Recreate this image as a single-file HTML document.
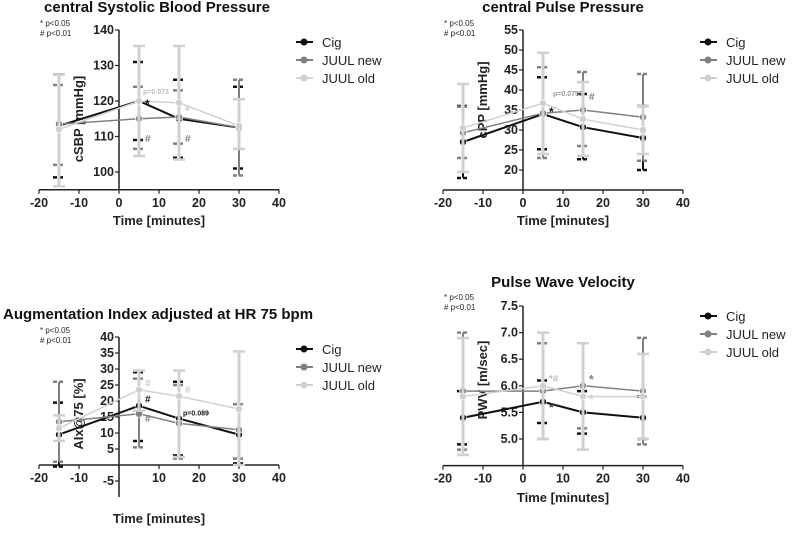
<!DOCTYPE html>
<html><head><meta charset="utf-8"><style>
body{margin:0;background:#fff;width:794px;height:538px;overflow:hidden}
svg{font-family:"Liberation Sans",Arial,sans-serif}
</style></head><body>
<svg id="fig" width="794" height="538"></svg>
<script>
const times=[-15,5,15,30];
const seriesNames=["Cig","JUUL new","JUUL old"];
// cSBP
const sbpMean=[[113,120,115,112.5],[113.5,115,115.5,112.5],[112,120,119.5,113]];
const sbpHi=[[127.5,131,126,124],[124.5,124,123,126],[127.5,135.5,135.5,120.5]];
const sbpLo=[[98.5,109,104,101],[102,106.5,108,99],[96,104.5,103.5,106.5]];
const sbpTicks=[100,110,120,130,140];
// cPP
const ppMean=[[27,34,30.7,28],[29.3,34.2,35,33.2],[30.5,36.7,32.7,30]];
const ppHi=[[36,43.2,39,36],[35.8,45.7,44.5,44],[41.5,49.3,42,36]];
const ppLo=[[18,25.2,22.7,20],[23,23,26,22.3],[19.5,24,23.5,24]];
const ppTicks=[20,25,30,35,40,45,50,55];
// AIx
const aiMean=[[9.5,18.5,14.5,9.5],[13.5,16,13,11],[11.5,23.5,21.5,17.5]];
const aiHi=[[19.5,29,26,19],[26,27,25,19],[15.5,29.5,29.5,35.5]];
const aiLo=[[-0.5,7.5,3,0.5],[1,5.5,2,2],[7.5,17,2.5,0]];
const aiTicks=[-5,5,10,15,20,25,30,35,40];
// PWV
const pwvMean=[[5.4,5.7,5.5,5.4],[5.9,5.9,6.0,5.9],[5.8,6.0,5.8,5.8]];
const pwvHi=[[5.9,6.1,5.9,5.8],[7.0,6.8,6.8,6.9],[6.9,7.0,6.8,6.6]];
const pwvLo=[[4.9,5.3,5.1,5.0],[4.8,5.0,5.2,4.9],[4.7,5.0,4.8,5.0]];
const pwvTicks=[5.0,5.5,6.0,6.5,7.0,7.5];
const xTicks=[-20,-10,0,10,20,30,40];

const colors=["#111","#808080","#d0d0d0"];
const svg=document.getElementById('fig');
const NS="http://www.w3.org/2000/svg";
function mk(tag,attrs,parent,text){const e=document.createElementNS(NS,tag);for(const k in attrs)e.setAttribute(k,attrs[k]);if(text!==undefined)e.textContent=text;(parent||svg).appendChild(e);return e;}

function panel(cfg){
  const g=mk('g',{});
  
  
  const X=v=>cfg.x0+(v+20)*4;
  const Y=v=>cfg.yA+(v-cfg.vA)*(cfg.yB-cfg.yA)/(cfg.vB-cfg.vA);
  const t=mk('text',{x:cfg.titleX,y:cfg.titleY,'font-size':15,'font-weight':'bold','text-anchor':cfg.titleAnchor||'middle',fill:'#111'},g,cfg.title);
  
  const p1=mk('text',{x:cfg.x0+1,y:cfg.pY,'font-size':8,fill:'#222'},g,'* p<0.05');
  
  const p2=mk('text',{x:cfg.x0+1,y:cfg.pY+10,'font-size':8,fill:'#222'},g,'# p<0.01');
  
  const xa=Y(cfg.xAxisV);
  const xl=mk('line',{x1:X(-20),x2:X(40),y1:xa,y2:xa,stroke:'#222','stroke-width':1.5},g);
  
  const yl=mk('line',{x1:X(0),x2:X(0),y1:Y(cfg.yTop),y2:Y(cfg.yBot),stroke:'#222','stroke-width':1.5},g);
  
  xTicks.forEach(v=>{
    mk('line',{x1:X(v),x2:X(v),y1:xa,y2:xa+4,stroke:'#222','stroke-width':1.2},g);
    if(cfg.skipZero && v===0) return;
    const tl=mk('text',{x:X(v),y:xa+17,'font-size':12.5,'font-weight':'bold','text-anchor':'middle',fill:'#222'},g,String(v));
    
  });
  cfg.ticks.forEach(v=>{
    mk('line',{x1:X(0)-4,x2:X(0),y1:Y(v),y2:Y(v),stroke:'#222','stroke-width':1.2},g);
    const tl=mk('text',{x:X(0)-5,y:Y(v)+4,'font-size':12.5,'font-weight':'bold','text-anchor':'end',fill:'#222'},g,cfg.fmt?v.toFixed(1):String(v));
    
  });
  const xt=mk('text',{x:X(10),y:cfg.xLabelY,'font-size':13,'font-weight':'bold','text-anchor':'middle',fill:'#222'},g,'Time [minutes]');
  
  const yy=cfg.yLabelY;
  const yt=mk('text',{x:X(-9),y:yy,'font-size':13,'font-weight':'bold','text-anchor':'middle',fill:'#222',transform:`rotate(-90 ${X(-9)} ${yy})`},g,cfg.yLabel);
  
  const sgs=[0,1,2].map(s=>{
    const sg=mk('g',{},g);
    
    
    return sg;
  });
  // error bars: cig, new, old (old on top)
  [0,1,2].forEach(s=>{
    const c=colors[s];
    times.forEach((tv,i)=>{
      const x=X(tv);
      const bar=mk('line',{x1:x,x2:x,y1:Y(cfg.hi[s][i]),y2:Y(cfg.lo[s][i]),stroke:c,'stroke-width':s==2?3:2},sgs[s]);
      
    });
  });
  [2,1,0].forEach(s=>{
    const c=colors[s];
    times.forEach((tv,i)=>{
      const x=X(tv);
      [cfg.hi[s][i],cfg.lo[s][i]].forEach(v=>{
        mk('line',{x1:x-6,x2:x+6,y1:Y(v),y2:Y(v),stroke:c,'stroke-width':2.5,'stroke-dasharray':s==2?'none':'4,2'},sgs[s]);
      });
    });
  });
  [2,1,0].forEach(s=>{
    const c=colors[s];
    const pts=times.map((tv,i)=>X(tv)+','+Y(cfg.mean[s][i])).join(' ');
    const pl=mk('polyline',{points:pts,fill:'none',stroke:c,'stroke-width':s==0?2:1.5},sgs[s]);
    
    times.forEach((tv,i)=>{
      const m=mk('circle',{cx:X(tv),cy:Y(cfg.mean[s][i]),r:3.5,fill:c,stroke:'#fff','stroke-width':0.6},sgs[s]);
      
    });
  });
  cfg.ann.forEach(a=>{
    const e=mk('text',{x:X(a[0]),y:Y(a[1]),'font-size':a[4]||11,fill:a[3],'font-weight':'bold'},g,a[2]);
    
  });
  seriesNames.forEach((n,s)=>{
    const ly=cfg.legY+s*18;
    const lg=mk('g',{},g);
    
    mk('line',{x1:cfg.legX,x2:cfg.legX+17,y1:ly,y2:ly,stroke:colors[s],'stroke-width':2},lg);
    mk('circle',{cx:cfg.legX+8,cy:ly,r:3.5,fill:colors[s]},lg);
    mk('text',{x:cfg.legX+26,y:ly+5,'font-size':13,fill:'#222'},lg,n);
  });
}

panel({name:'csbp-chart',title:'central Systolic Blood Pressure',titleX:157,titleY:12,x0:39,yA:30,vA:140,yB:172,vB:100,xAxisV:95,yTop:140,yBot:95,ticks:sbpTicks,
  mean:sbpMean,hi:sbpHi,lo:sbpLo,pY:26,legX:296,legY:42,xLabelY:225,yLabel:'cSBP [mmHg]',yLabelY:119,
  ann:[[6.5,118,'*','#111',12],[6,122,'p=0.073','#bbb',7],[6.5,108.5,'#','#808080',10],[16.5,108.5,'#','#808080',10],[16.5,116,'*','#ccc',12]]});
panel({name:'cpp-chart',title:'central Pulse Pressure',titleX:563,titleY:12,x0:443,yA:30,vA:55,yB:170,vB:20,xAxisV:15,yTop:55,yBot:15,ticks:ppTicks,
  mean:ppMean,hi:ppHi,lo:ppLo,pY:26,legX:700,legY:42,xLabelY:225,yLabel:'cPP [mmHg]',yLabelY:100,
  ann:[[6.5,33.5,'*','#111',12],[7.5,38.5,'p=0.0755','#999',7],[16.5,37.5,'#','#808080',10]]});
panel({name:'aix-chart',title:'Augmentation Index adjusted at HR 75 bpm',titleX:3,titleAnchor:'start',titleY:319,x0:39,yA:337,vA:40,yB:449,vB:5,xAxisV:0,yTop:40,yBot:-10,ticks:aiTicks,skipZero:true,
  mean:aiMean,hi:aiHi,lo:aiLo,pY:333,legX:296,legY:349,xLabelY:523,yLabel:'AIx@75 [%]',yLabelY:414,
  ann:[[6.5,19.5,'#','#111',10],[6.5,13.5,'#','#808080',10],[6.5,24.5,'#','#ccc',10],[16.5,22.5,'#','#ccc',10],[16,15.5,'p=0.089','#111',7]]});
panel({name:'pwv-chart',title:'Pulse Wave Velocity',titleX:563,titleY:287,x0:443,yA:306,vA:7.5,yB:439,vB:5.0,xAxisV:4.5,yTop:7.5,yBot:4.5,ticks:pwvTicks,fmt:true,
  mean:pwvMean,hi:pwvHi,lo:pwvLo,pY:300,legX:700,legY:316,xLabelY:502,yLabel:'PWV [m/sec]',yLabelY:380,
  ann:[[6.5,5.52,'*','#333',12],[6.5,6.07,'*#','#bbb',10],[16.5,6.04,'*','#808080',12],[16.5,5.68,'*','#ccc',12]]});
</script>
</body></html>
